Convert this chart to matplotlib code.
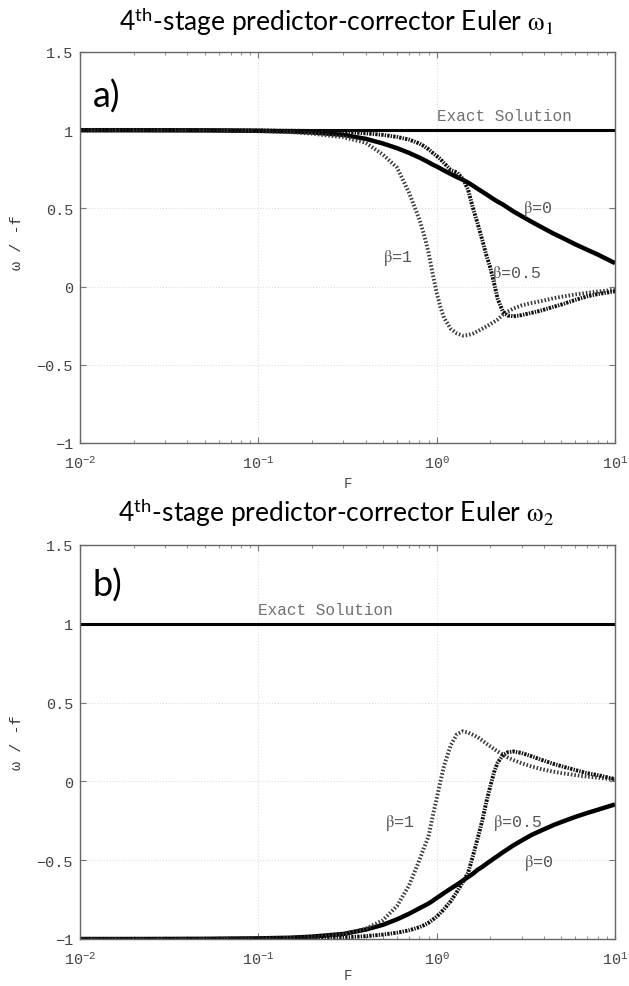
import numpy as np
import matplotlib
matplotlib.use("Agg")
import matplotlib.pyplot as plt
from matplotlib.ticker import FixedLocator, LogLocator, NullFormatter

plt.rcParams['mathtext.fontset'] = 'stix'
plt.rcParams['mathtext.default'] = 'rm'

MONO = ['Liberation Mono', 'DejaVu Sans Mono']

# Courant number F and the three beta curves, upper panel (omega_1)
F_a = [0.01, 0.02, 0.05, 0.1, 0.15, 0.2, 0.3, 0.4, 0.5, 0.6, 0.7, 0.8, 0.85,
       0.9, 0.95, 1.0, 1.05, 1.1, 1.2, 1.3, 1.4, 1.5, 1.6, 1.7, 1.8, 1.9, 2.0,
       2.1, 2.2, 2.35, 2.5, 2.7, 3.0, 3.4, 3.8, 4.5, 5.0, 6.0, 7.0, 8.0, 10.0]
w1_b0 = [1.0, 1.0, 0.999, 0.996, 0.992, 0.986, 0.97, 0.945, 0.915, 0.885,
         0.855, 0.825, 0.81, 0.795, 0.78, 0.768, 0.755, 0.742, 0.72, 0.70,
         0.683, 0.665, 0.645, 0.625, 0.607, 0.59, 0.573, 0.557, 0.543, 0.525,
         0.505, 0.48, 0.45, 0.415, 0.385, 0.34, 0.315, 0.27, 0.235, 0.205, 0.15]
w1_b1 = [1.0, 1.0, 0.999, 0.995, 0.988, 0.978, 0.955, 0.92, 0.844, 0.76,
         0.6, 0.43, 0.33, 0.22, 0.08, -0.04, -0.13, -0.2, -0.27, -0.3,
         -0.313, -0.31, -0.3, -0.285, -0.27, -0.255, -0.24, -0.225, -0.21,
         -0.18, -0.16, -0.14, -0.12, -0.105, -0.094, -0.075, -0.065, -0.05,
         -0.04, -0.032, -0.02]
w1_b05 = [1.0, 1.0, 1.0, 0.999, 0.997, 0.995, 0.99, 0.98, 0.97, 0.957,
          0.94, 0.915, 0.898, 0.878, 0.855, 0.835, 0.815, 0.79, 0.745, 0.73,
          0.69, 0.62, 0.5, 0.4, 0.3, 0.2, 0.12, 0.02, -0.08, -0.16, -0.185,
          -0.19, -0.182, -0.168, -0.155, -0.13, -0.115, -0.085, -0.062,
          -0.048, -0.03]

# lower panel (omega_2)
F_b = [0.01, 0.02, 0.05, 0.1, 0.15, 0.2, 0.3, 0.4, 0.5, 0.6, 0.7, 0.8, 0.85,
       0.9, 0.95, 1.0, 1.05, 1.1, 1.2, 1.3, 1.4, 1.5, 1.6, 1.7, 1.8, 1.9, 2.0,
       2.1, 2.2, 2.35, 2.5, 2.7, 3.0, 3.4, 3.8, 4.5, 5.0, 6.0, 7.0, 8.0, 10.0]
w2_b0 = [-1.0, -1.0, -0.999, -0.996, -0.992, -0.985, -0.968, -0.94, -0.91,
         -0.875, -0.84, -0.805, -0.79, -0.775, -0.758, -0.74, -0.724, -0.708,
         -0.68, -0.655, -0.63, -0.607, -0.585, -0.56, -0.543, -0.523, -0.505,
         -0.488, -0.473, -0.45, -0.43, -0.405, -0.375, -0.34, -0.315, -0.278,
         -0.258, -0.225, -0.2, -0.18, -0.146]
w2_b1 = [-1.0, -1.0, -0.999, -0.997, -0.993, -0.988, -0.97, -0.935, -0.88,
         -0.79, -0.66, -0.5, -0.42, -0.35, -0.22, -0.11, 0.0, 0.1, 0.23,
         0.3, 0.318, 0.31, 0.295, 0.28, 0.26, 0.24, 0.222, 0.205, 0.19, 0.17,
         0.152, 0.135, 0.115, 0.095, 0.08, 0.062, 0.053, 0.04, 0.03, 0.024,
         0.012]
w2_b05 = [-1.0, -1.0, -1.0, -0.999, -0.998, -0.996, -0.99, -0.982, -0.972,
          -0.96, -0.945, -0.925, -0.912, -0.897, -0.878, -0.858, -0.835,
          -0.81, -0.76, -0.7, -0.64, -0.58, -0.47, -0.36, -0.25, -0.13,
          -0.03, 0.06, 0.12, 0.165, 0.185, 0.19, 0.18, 0.16, 0.14, 0.112,
          0.097, 0.072, 0.052, 0.04, 0.015]

exact_a = 1.0
exact_b = 1.0

xticks = [0.01, 0.1, 1.0, 10.0]
xticklabels = [r'$\mathregular{10^{-2}}$', r'$\mathregular{10^{-1}}$',
               r'$\mathregular{10^{0}}$', r'$\mathregular{10^{1}}$']
yticks = [-1.0, -0.5, 0.0, 0.5, 1.0, 1.5]
yticklabels = ['−1', '−0.5', '0', '0.5', '1', '1.5']

titles = [r'4$^{\mathregular{th}}$-stage predictor-corrector Euler $\omega_1$',
          r'4$^{\mathregular{th}}$-stage predictor-corrector Euler $\omega_2$']
panel_tags = ['a)', 'b)']

W, H = 629, 987
fig = plt.figure(figsize=(W / 100, H / 100), dpi=100)

def px_axes(left, top, right, bottom):
    return fig.add_axes([left / W, 1 - bottom / H, (right - left) / W,
                         (bottom - top) / H])

ax_a = px_axes(80, 53, 615, 444)
ax_b = px_axes(80, 546, 615, 940)


def style(ax):
    ax.set_xscale('log')
    ax.set_xlim(0.01, 10)
    ax.set_ylim(-1, 1.5)
    ax.xaxis.set_major_locator(FixedLocator(xticks))
    ax.set_xticklabels(xticklabels, family=MONO, fontsize=11, color='#444444')
    ax.xaxis.set_minor_locator(LogLocator(base=10, subs=np.arange(2, 10)))
    ax.xaxis.set_minor_formatter(NullFormatter())
    ax.set_yticks(yticks)
    ax.set_yticklabels(yticklabels, family=MONO, fontsize=11, color='#444444')
    ax.tick_params(which='both', direction='in', top=True, right=True,
                   color='#777777')
    ax.tick_params(which='major', length=4)
    ax.tick_params(which='minor', length=2.5)
    ax.tick_params(axis='x', pad=8)
    ax.tick_params(axis='y', pad=5)
    for s in ax.spines.values():
        s.set_color('#666666')
        s.set_linewidth(1.0)
    ax.grid(True, which='major', color='#dddddd', lw=0.8, ls=':')
    ax.set_axisbelow(True)
    ax.set_xlabel('F', family=MONO, fontsize=10, color='#444444')
    ax.set_ylabel('ω / -f', family=MONO, fontsize=11, color='#333333')


def beta_label(ax, x, y, val):
    ax.text(x, y, r'$\beta$=' + val, family=MONO, fontsize=12,
            color='#555555', va='center', ha='left')


def curves(ax, F, b0, b1, b05):
    ax.plot(F, b0, color='black', lw=3.2, solid_capstyle='butt')
    ax.plot(F, b1, color='#3a3a3a', lw=2.8, ls=(0, (0.4, 0.5)))
    ax.plot(F, b05, color='#111111', lw=2.8, ls=(0, (0.6, 0.3, 0.35, 0.3)))


# ---- panel a ----
style(ax_a)
ax_a.xaxis.set_label_coords(0.5, -0.085)
ax_a.yaxis.set_label_coords(-0.105, 0.514)
ax_a.axhline(exact_a, color='black', lw=2.2)
curves(ax_a, F_a, w1_b0, w1_b1, w1_b05)
ax_a.text(1.0, 1.095, 'Exact Solution', family=MONO, fontsize=11.5,
          color='#707070', va='center', ha='left')
beta_label(ax_a, 3.05, 0.5, '0')
beta_label(ax_a, 2.04, 0.09, '0.5')
beta_label(ax_a, 0.50, 0.19, '1')
ax_a.text(0.0118, 1.22, panel_tags[0], family='Lato', fontsize=26,
          va='center', ha='left')

# ---- panel b ----
style(ax_b)
ax_b.xaxis.set_label_coords(0.5, -0.074)
ax_b.yaxis.set_label_coords(-0.105, 0.5)
ax_b.axhline(exact_b, color='black', lw=2.2)
curves(ax_b, F_b, w2_b0, w2_b1, w2_b05)
ax_b.text(0.1, 1.09, 'Exact Solution', family=MONO, fontsize=11.5,
          color='#707070', va='center', ha='left')
beta_label(ax_b, 3.1, -0.51, '0')
beta_label(ax_b, 2.07, -0.26, '0.5')
beta_label(ax_b, 0.51, -0.26, '1')
ax_b.text(0.0118, 1.25, panel_tags[1], family='Lato', fontsize=26,
          va='center', ha='left')

fig.text(336 / W, 1 - 22 / H, titles[0], family='Lato', fontsize=19,
         ha='center', va='center')
fig.text(336 / W, 1 - 513 / H, titles[1], family='Lato', fontsize=19,
         ha='center', va='center')

fig.savefig('out.png', dpi=100)
